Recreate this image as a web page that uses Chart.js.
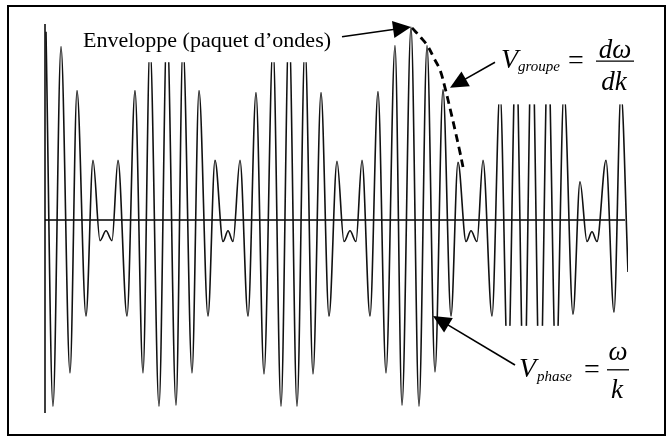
<!DOCTYPE html>
<html>
<head>
<meta charset="utf-8">
<script src="https://cdn.jsdelivr.net/npm/chart.js@4.4.1/dist/chart.umd.min.js"></script>
<style>
  body { margin: 0; background: #fff; }
  canvas { display: block; }
</style>
</head>
<body>
<canvas id="chart" width="667" height="437"></canvas>
<script>
// crests and troughs of the beat signal (time, amplitude)
const waveTime = [
  1, 8, 16, 25, 32, 41, 48, 55, 61, 67, 73, 82, 90, 98,
  105, 114, 122, 131, 138, 147, 154, 163, 170, 178, 183, 188, 195, 203,
  211, 219, 228, 236, 244, 252, 260, 268, 276, 284, 292, 299, 305, 311,
  317, 325, 333, 341, 350, 357, 366, 374, 382, 390, 398, 406, 413, 421,
  426, 432, 438, 447, 455, 463, 471, 479, 487, 495, 503, 511, 519, 528,
  535, 542, 547, 552, 561, 569, 576, 583
];
const waveValue = [
  1.92, -1.90, 1.77, -1.56, 1.32, -0.98, 0.61, -0.21, -0.11, -0.21, 0.61, -0.98, 1.32, -1.56,
  1.79, -1.90, 1.99, -1.89, 1.79, -1.56, 1.32, -0.98, 0.61, -0.22, -0.11, -0.22, 0.61, -0.98,
  1.30, -1.57, 1.79, -1.90, 1.99, -1.90, 1.79, -1.57, 1.30, -0.98, 0.60, -0.22, -0.11, -0.22,
  0.61, -0.98, 1.31, -1.56, 1.78, -1.89, 1.97, -1.90, 1.78, -1.55, 1.33, -0.98, 0.59, -0.22,
  -0.11, -0.22, 0.61, -0.98, 1.32, -1.56, 1.79, -1.90, 1.99, -1.90, 1.79, -1.56, 1.32, -0.96,
  0.39, -0.22, -0.12, -0.22, 0.61, -0.94, 1.30, -0.53
];

// dashed envelope following the big wave packet
const envTime = [367, 376, 383, 389, 395, 400, 405, 410, 415, 418];
const envValue = [1.96, 1.86, 1.77, 1.65, 1.53, 1.35, 1.14, 0.92, 0.69, 0.54];

const envLabel = "Enveloppe (paquet d’ondes)";
const groupLabel = { v: "V", sub: "groupe", num: "dω", den: "dk" };
const phaseLabel = { v: "V", sub: "phase", num: "ω", den: "k" };

// placement of the annotations, in data units (time, amplitude)
const notes = {
  envText: [38, 1.765],
  envBox: [33, 297, 2.15, 1.61],
  envArrow: [297, 1.87, 366, 1.97],
  groupAnchor: [456, 1.55],
  groupBox: [452, 600, 2.15, 1.18],
  groupArrow: [450, 1.61, 405, 1.35],
  phaseAnchor: [474, -1.60],
  phaseBox: [453, 600, -1.08, -2.15],
  phaseArrow: [470, -1.48, 388, -0.98]
};

const serif = '"Liberation Serif", "Times New Roman", serif';

function arrow(ctx, x1, y1, x2, y2) {
  const a = Math.atan2(y2 - y1, x2 - x1);
  const len = 18, half = 8.5;
  const c = Math.cos(a), s = Math.sin(a);
  ctx.beginPath();
  ctx.moveTo(x1, y1);
  ctx.lineTo(x2 - c * len * 0.8, y2 - s * len * 0.8);
  ctx.stroke();
  ctx.beginPath();
  ctx.moveTo(x2, y2);
  ctx.lineTo(x2 - len * c + half * s, y2 - len * s - half * c);
  ctx.lineTo(x2 - len * c - half * s, y2 - len * s + half * c);
  ctx.closePath();
  ctx.fill();
}

function formula(ctx, x, y, lab, p) {
  ctx.textAlign = "left";
  ctx.font = "italic 28px " + serif;
  ctx.fillText(lab.v, x, y);
  ctx.font = "italic 15px " + serif;
  ctx.fillText(lab.sub, x + p.sub, y + p.subDy);
  ctx.font = "28px " + serif;
  ctx.fillText("=", x + p.eq, y + 1);
  ctx.font = "italic 27px " + serif;
  ctx.textAlign = "center";
  ctx.fillText(lab.num, x + p.frac, y + p.numDy);
  ctx.fillText(lab.den, x + p.frac - 1, y + p.denDy);
  ctx.lineWidth = 1.3;
  ctx.beginPath();
  ctx.moveTo(x + p.frac - p.bar, y - 7);
  ctx.lineTo(x + p.frac + p.bar, y - 7);
  ctx.stroke();
}

const annotations = {
  id: "annotations",
  beforeDraw(chart) {
    const ctx = chart.ctx;
    ctx.save();
    ctx.fillStyle = "#fff";
    ctx.fillRect(0, 0, chart.width, chart.height);
    ctx.strokeStyle = "#000";
    ctx.lineWidth = 2;
    ctx.strokeRect(8, 6, chart.width - 10, chart.height - 8);
    ctx.restore();
  },
  beforeDatasetsDraw(chart) {
    const ctx = chart.ctx, xs = chart.scales.x, ys = chart.scales.y;
    ctx.save();
    ctx.strokeStyle = "#000";
    ctx.lineWidth = 1.5;
    ctx.beginPath();
    ctx.moveTo(xs.getPixelForValue(0), ys.getPixelForValue(0));
    ctx.lineTo(xs.getPixelForValue(580), ys.getPixelForValue(0));
    ctx.moveTo(xs.getPixelForValue(0), ys.getPixelForValue(2));
    ctx.lineTo(xs.getPixelForValue(0), ys.getPixelForValue(-1.97));
    ctx.stroke();
    ctx.restore();
  },
  afterDatasetsDraw(chart) {
    const ctx = chart.ctx, xs = chart.scales.x, ys = chart.scales.y;
    const px = t => xs.getPixelForValue(t);
    const py = v => ys.getPixelForValue(v);
    ctx.save();
    ctx.fillStyle = "#fff";
    [notes.envBox, notes.groupBox, notes.phaseBox].forEach(b => {
      ctx.fillRect(px(b[0]), py(b[2]), px(b[1]) - px(b[0]), py(b[3]) - py(b[2]));
    });
    ctx.fillStyle = "#000";
    ctx.strokeStyle = "#000";
    ctx.textBaseline = "alphabetic";
    ctx.font = "22px " + serif;
    ctx.fillText(envLabel, px(notes.envText[0]), py(notes.envText[1]));

    ctx.lineWidth = 1.6;
    [notes.envArrow, notes.groupArrow, notes.phaseArrow].forEach(a => {
      arrow(ctx, px(a[0]), py(a[1]), px(a[2]), py(a[3]));
    });

    formula(ctx, px(notes.groupAnchor[0]), py(notes.groupAnchor[1]), groupLabel,
      { sub: 17, subDy: 3, eq: 67, frac: 114, numDy: -10, denDy: 22, bar: 19 });
    formula(ctx, px(notes.phaseAnchor[0]), py(notes.phaseAnchor[1]), phaseLabel,
      { sub: 18, subDy: 4, eq: 65, frac: 99, numDy: -17, denDy: 21, bar: 11 });
    ctx.restore();
  }
};

new Chart(document.getElementById("chart"), {
  type: "line",
  data: {
    datasets: [{
      data: waveTime.map((t, i) => ({ x: t, y: waveValue[i] })),
      borderColor: "#111",
      borderWidth: 1.6,
      cubicInterpolationMode: "monotone",
      pointRadius: 0,
      fill: false
    }, {
      data: envTime.map((t, i) => ({ x: t, y: envValue[i] })),
      borderColor: "#000",
      borderWidth: 2.8,
      borderDash: [8, 5],
      tension: 0.4,
      pointRadius: 0,
      fill: false
    }]
  },
  options: {
    responsive: false,
    animation: false,
    devicePixelRatio: 1,
    layout: { padding: { left: 45, right: 39, top: 24, bottom: 21 } },
    scales: {
      x: { type: "linear", min: 0, max: 583, display: false },
      y: { min: -2, max: 2, display: false }
    },
    plugins: { legend: { display: false }, tooltip: { enabled: false } }
  },
  plugins: [annotations]
});
</script>
</body>
</html>
